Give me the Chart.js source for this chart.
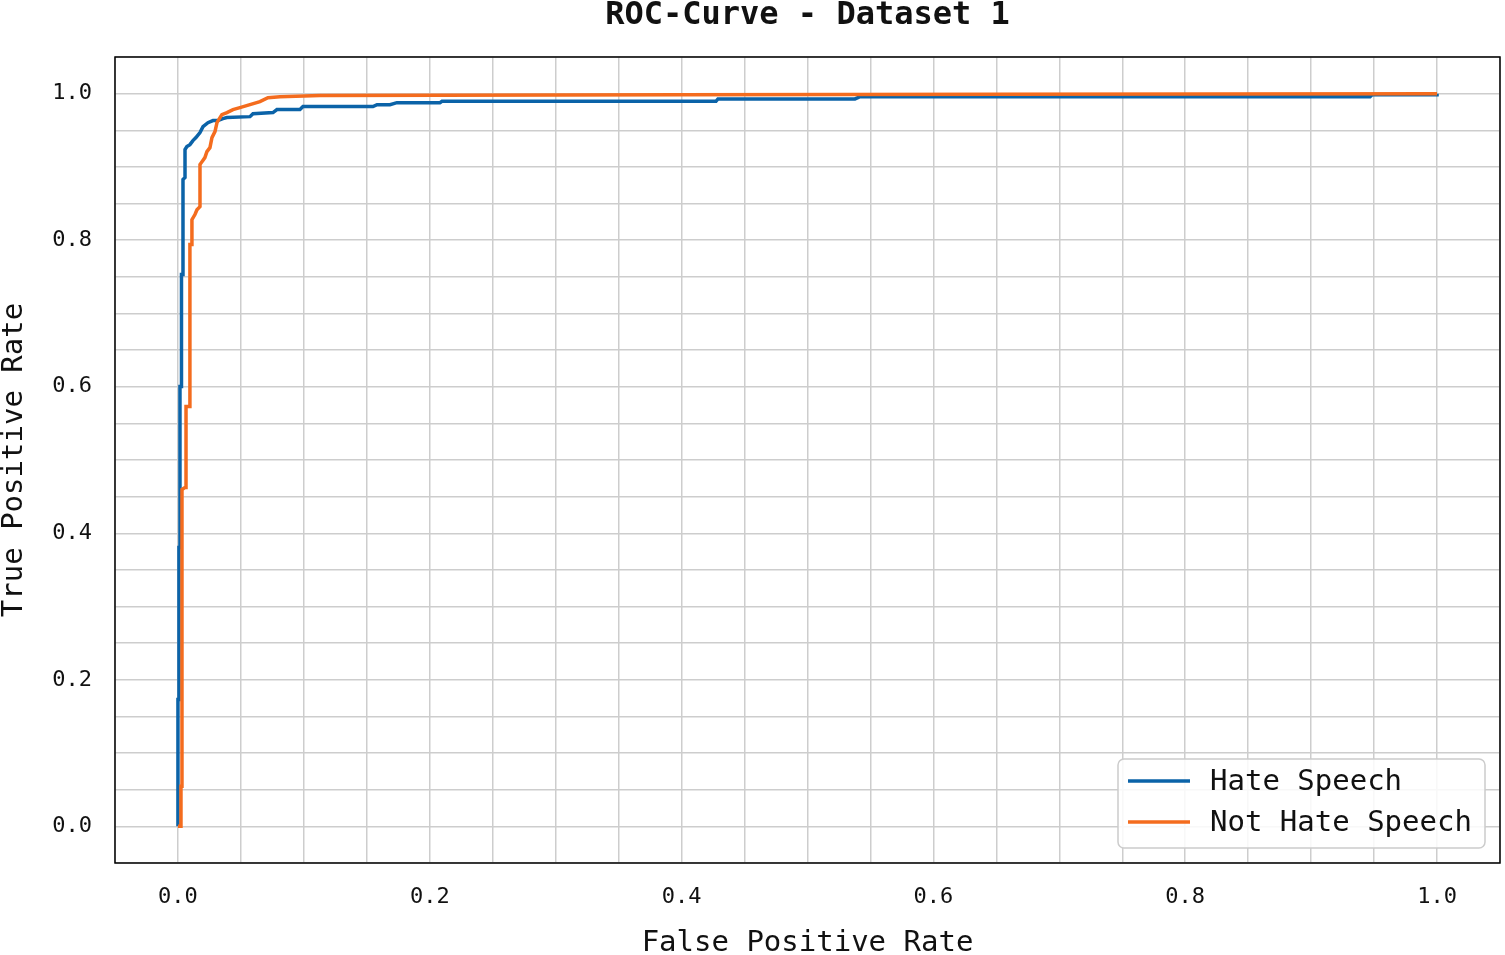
<!DOCTYPE html>
<html>
<head>
<meta charset="utf-8">
<script src="https://cdn.jsdelivr.net/npm/chart.js@4.4.1/dist/chart.umd.min.js"></script>
<style>
  html, body { margin: 0; padding: 0; background: #fff; overflow: hidden; }
  canvas { display: block; }
</style>
</head>
<body>
<canvas id="roc" width="1505" height="955"></canvas>
<script>
const titleText = 'ROC-Curve - Dataset 1';
const seriesNames = ['Hate Speech', 'Not Hate Speech'];
const seriesColors = ['#0b63a8', '#f46c1e'];

// Hate Speech
const hateFpr = [0, 0, 0.0008, 0.0008, 0.0016, 0.0016, 0.0028, 0.0028, 0.004, 0.004,
    0.0056, 0.0056, 0.0071, 0.0095, 0.0119, 0.0143, 0.0175, 0.0199, 0.0238, 0.0278,
    0.0318, 0.0357, 0.0389, 0.0572, 0.0596, 0.0755, 0.0786, 0.0969, 0.0993, 0.1549,
    0.1581, 0.1684, 0.1739, 0.2081, 0.2097, 0.4273, 0.4289, 0.5377, 0.5417, 0.9468,
    0.9484, 1.0, 1.0];
const hateTpr = [0, 0.1733, 0.1733, 0.3806, 0.3806, 0.6003, 0.6003, 0.7531, 0.7531, 0.8827,
    0.8854, 0.9236, 0.9277, 0.9304, 0.9359, 0.94, 0.9468, 0.955, 0.9604, 0.9632,
    0.9632, 0.9659, 0.9673, 0.9686, 0.9727, 0.9741, 0.9782, 0.9782, 0.9823, 0.9823,
    0.985, 0.985, 0.9877, 0.9877, 0.9895, 0.9895, 0.9928, 0.9928, 0.9959, 0.9959,
    0.9986, 0.9986, 1.0];

// Not Hate Speech
const notHateFpr = [0, 0.0024, 0.0024, 0.0032, 0.0032, 0.0056, 0.0064, 0.0064, 0.0095, 0.0095,
    0.0111, 0.0111, 0.0135, 0.0151, 0.0175, 0.0175, 0.0191, 0.0214, 0.023, 0.0254,
    0.027, 0.0294, 0.031, 0.0334, 0.0349, 0.0389, 0.0437, 0.0492, 0.0572, 0.0651,
    0.0715, 0.081, 0.1128, 0.3987, 0.6529, 1.0];
const notHateTpr = [0, 0, 0.0546, 0.0546, 0.4598, 0.4625, 0.4625, 0.573, 0.573, 0.794,
    0.794, 0.828, 0.835, 0.8415, 0.8458, 0.9031, 0.9072, 0.9127, 0.9209, 0.9263,
    0.94, 0.9482, 0.9604, 0.9673, 0.9714, 0.9741, 0.9782, 0.9809, 0.985, 0.9891,
    0.9945, 0.9959, 0.9973, 0.9986, 0.9993, 1.0];

const tickLabels = ['0.0', '0.2', '0.4', '0.6', '0.8', '1.0'];

const FONT = "'DejaVu Sans Mono', 'Liberation Mono', monospace";

function toPoints(xs, ys) {
    return xs.map((x, i) => ({ x: x, y: ys[i] }));
}

function majorLabel(v) {
    const k = Math.round(v / 0.2);
    if (Math.abs(v / 0.2 - k) < 1e-6 && k >= 0 && k < tickLabels.length) return tickLabels[k];
    return '';
}

// frame around the plot + legend box inside the lower right
const framePlugin = {
    id: 'frame',
    afterDraw(chart) {
        const ctx = chart.ctx;
        const a = chart.chartArea;
        ctx.save();
        ctx.strokeStyle = '#000';
        ctx.lineWidth = 1.5;
        ctx.strokeRect(a.left, a.top, a.right - a.left, a.bottom - a.top);

        const bx = a.right - 382, by = 759, bw = 367, bh = 89;
        ctx.beginPath();
        ctx.roundRect(bx, by, bw, bh, 6);
        ctx.fillStyle = 'rgba(255,255,255,0.85)';
        ctx.fill();
        ctx.strokeStyle = '#cccccc';
        ctx.lineWidth = 1.5;
        ctx.stroke();

        ctx.font = '29px ' + FONT;
        ctx.textBaseline = 'middle';
        ctx.fillStyle = '#111';
        chart.data.datasets.forEach((ds, i) => {
            const y = 781 + i * 41;
            ctx.beginPath();
            ctx.strokeStyle = ds.borderColor;
            ctx.lineWidth = 3.5;
            ctx.moveTo(bx + 10, y);
            ctx.lineTo(bx + 72, y);
            ctx.stroke();
            ctx.fillText(ds.label, bx + 92, y + 1);
        });
        ctx.restore();
    }
};

new Chart(document.getElementById('roc'), {
    type: 'line',
    data: {
        datasets: [
            {
                label: seriesNames[0],
                data: toPoints(hateFpr, hateTpr),
                borderColor: seriesColors[0],
                borderWidth: 3.5,
                pointRadius: 0,
                tension: 0,
                order: 1
            },
            {
                label: seriesNames[1],
                data: toPoints(notHateFpr, notHateTpr),
                borderColor: seriesColors[1],
                borderWidth: 3.5,
                pointRadius: 0,
                tension: 0,
                order: 0
            }
        ]
    },
    options: {
        responsive: false,
        animation: false,
        layout: { padding: { top: 0, right: 5, bottom: 0, left: 0 } },
        plugins: {
            legend: { display: false },
            tooltip: { enabled: false },
            title: {
                display: true,
                fullSize: false,
                text: titleText,
                color: '#111',
                font: { family: FONT, size: 32, weight: 'bold', lineHeight: 1.0 },
                padding: { top: 0, bottom: 25 }
            }
        },
        scales: {
            x: {
                type: 'linear',
                min: -0.05,
                max: 1.05,
                border: { display: false },
                grid: { color: '#cdcdcd', lineWidth: 1.5, drawTicks: false },
                afterFit: (s) => { s.height = 92; s.paddingRight = 0; s.paddingLeft = 0; },
                ticks: {
                    stepSize: 0.05,
                    autoSkip: false,
                    maxRotation: 0,
                    padding: 21,
                    color: '#111',
                    font: { family: FONT, size: 22 },
                    callback: (v) => majorLabel(v)
                },
                title: {
                    display: true,
                    text: 'False Positive Rate',
                    color: '#111',
                    font: { family: FONT, size: 29, lineHeight: 1.0 },
                    padding: { top: 0, bottom: -3 }
                }
            },
            y: {
                type: 'linear',
                min: -0.05,
                max: 1.05,
                border: { display: false },
                grid: { color: '#cdcdcd', lineWidth: 1.5, drawTicks: false },
                afterFit: (s) => { s.width = 115; },
                ticks: {
                    stepSize: 0.05,
                    autoSkip: false,
                    padding: 23,
                    color: '#111',
                    font: { family: FONT, size: 22 },
                    callback: (v) => majorLabel(v)
                },
                title: {
                    display: true,
                    text: 'True Positive Rate',
                    color: '#111',
                    font: { family: FONT, size: 29, lineHeight: 1.0 },
                    padding: { top: 0, bottom: 0 }
                }
            }
        }
    },
    plugins: [framePlugin]
});
</script>
</body>
</html>
